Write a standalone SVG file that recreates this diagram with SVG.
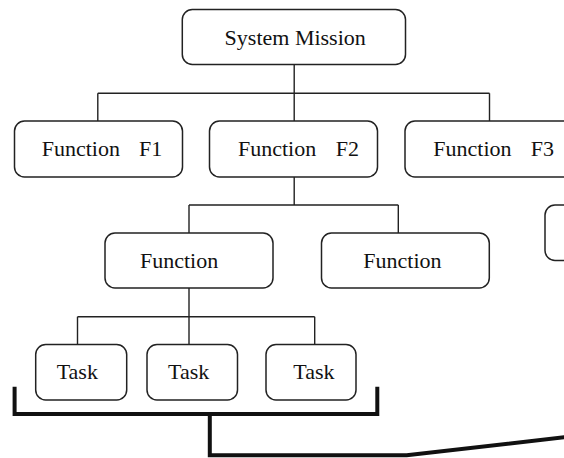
<svg xmlns="http://www.w3.org/2000/svg" width="564" height="458" viewBox="0 0 564 458">
  <style>
    .box { fill: #ffffff; stroke: #222222; stroke-width: 1.5; }
    .lbl { font-family: "Liberation Serif", "Times New Roman", serif; font-size: 22px; fill: #111111; }
    .wire { fill: none; stroke: #222222; stroke-width: 1.4; }
    .brace { fill: none; stroke: #111111; stroke-width: 4; stroke-linejoin: miter; }
  </style>
  <rect width="564" height="458" fill="#ffffff"/>

  <g id="connectors">
    <path class="wire" d="M294.2 65 V93.3 M97.8 93.3 H489.5 M97.8 93.3 V121 M294.2 93.3 V121 M489.5 93.3 V121"/>
    <path class="wire" d="M294.2 177 V205 M189 205 H398.3 M189 205 V233 M398.3 205 V233"/>
    <path class="wire" d="M189 288 V316.7 M77.5 316.7 H314.7 M77.5 316.7 V344.5 M189 316.7 V344.5 M314.7 316.7 V344.5"/>
    <path class="brace" d="M14.6 386.7 V414 H377.3 V386.7 M209.8 414 V455.3 H406.7 L566 437"/>
  </g>

  <g id="system-mission">
    <rect class="box" x="182.3" y="9.5" width="223.2" height="55" rx="10"/>
    <text class="lbl" x="295.2" y="45" text-anchor="middle">System Mission</text>
  </g>

  <g id="function-f1">
    <rect class="box" x="14.5" y="121" width="168" height="56" rx="10"/>
    <text class="lbl" x="41.7" y="156">Function<tspan x="139">F1</tspan></text>
  </g>

  <g id="function-f2">
    <rect class="box" x="209.5" y="121" width="168" height="56" rx="10"/>
    <text class="lbl" x="238" y="156">Function<tspan x="335.7">F2</tspan></text>
  </g>

  <g id="function-f3">
    <rect class="box" x="405" y="121" width="200" height="56" rx="10"/>
    <text class="lbl" x="433.3" y="156">Function<tspan x="530.7">F3</tspan></text>
  </g>

  <g id="function-f2-1">
    <rect class="box" x="105" y="233" width="168" height="55" rx="10"/>
    <text class="lbl" x="140" y="267.7">Function</text>
  </g>

  <g id="function-f2-2">
    <rect class="box" x="321.5" y="233" width="167.8" height="55" rx="10"/>
    <text class="lbl" x="363.3" y="267.7">Function</text>
  </g>

  <g id="function-f3-1">
    <rect class="box" x="545" y="205" width="100" height="55.5" rx="10"/>
  </g>

  <g id="task-1">
    <rect class="box" x="35.7" y="344.5" width="91" height="55.5" rx="10"/>
    <text class="lbl" x="56.7" y="379">Task</text>
  </g>

  <g id="task-2">
    <rect class="box" x="147" y="344.5" width="90.5" height="55.5" rx="10"/>
    <text class="lbl" x="168" y="379">Task</text>
  </g>

  <g id="task-3">
    <rect class="box" x="266" y="344.5" width="90" height="55.5" rx="10"/>
    <text class="lbl" x="293.3" y="379">Task</text>
  </g>
</svg>
